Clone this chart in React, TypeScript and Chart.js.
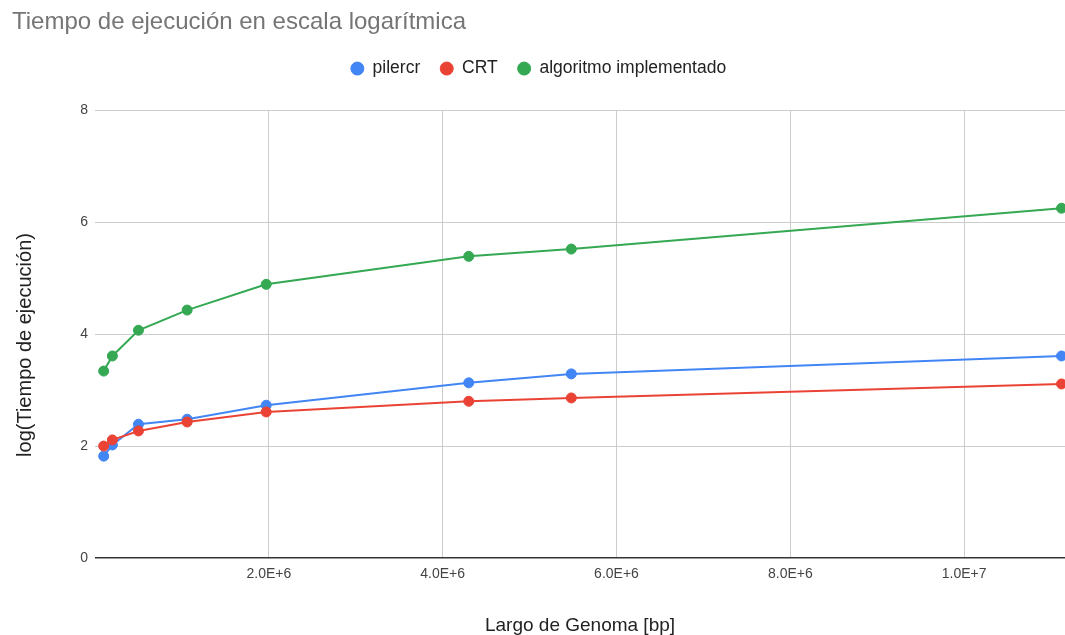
import React, { useEffect, useRef } from "react";
import { Chart, registerables } from "chart.js";

Chart.register(...registerables);

const chartTitle = "Tiempo de ejecución en escala logarítmica";
const xAxisTitle = "Largo de Genoma [bp]";
const yAxisTitle = "log(Tiempo de ejecución)";

const genomeSizes = [0.1e6, 0.2e6, 0.5e6, 1.06e6, 1.97e6, 4.3e6, 5.48e6, 11.12e6];
const pilercrValues = [1.82, 2.02, 2.39, 2.48, 2.73, 3.13, 3.29, 3.61];
const crtValues = [2.0, 2.11, 2.27, 2.43, 2.61, 2.8, 2.86, 3.11];
const algoritmoValues = [3.34, 3.61, 4.07, 4.43, 4.89, 5.39, 5.52, 6.25];

const seriesNames = ["pilercr", "CRT", "algoritmo implementado"];
const seriesColors = ["#4285F4", "#EA4335", "#34A853"];

const xTickValues = [2e6, 4e6, 6e6, 8e6, 1e7];
const xTickLabels = ["2.0E+6", "4.0E+6", "6.0E+6", "8.0E+6", "1.0E+7"];
const yTickValues = [0, 2, 4, 6, 8];

const FONT = "'Liberation Sans', Arial, sans-serif";

const yTitlePlugin = {
  id: "yTitlePlugin",
  afterDraw(chart: any) {
    const ctx = chart.ctx;
    ctx.save();
    ctx.translate(25, 345);
    ctx.rotate(-Math.PI / 2);
    ctx.font = `20px ${FONT}`;
    ctx.fillStyle = "#222222";
    ctx.textAlign = "center";
    ctx.textBaseline = "middle";
    ctx.fillText(yAxisTitle, 0, 0);
    ctx.restore();
  },
};

export default function App() {
  const canvasRef = useRef<HTMLCanvasElement | null>(null);

  useEffect(() => {
    const canvas = canvasRef.current;
    if (!canvas) return;
    const seriesValues = [pilercrValues, crtValues, algoritmoValues];
    const drawOrder = [2, 1, 0];
    const datasets = seriesNames.map((name, i) => ({
      label: name,
      data: genomeSizes.map((x, j) => ({ x, y: seriesValues[i][j] })),
      borderColor: seriesColors[i],
      backgroundColor: seriesColors[i],
      pointBackgroundColor: seriesColors[i],
      pointBorderColor: seriesColors[i],
      pointRadius: 5,
      pointBorderWidth: 1,
      borderWidth: 2,
      tension: 0,
      clip: false as const,
      order: drawOrder[i],
    }));

    const chart = new Chart(canvas, {
      type: "line",
      data: { datasets },
      plugins: [yTitlePlugin],
      options: {
        responsive: false,
        animation: false,
        layout: { autoPadding: false, padding: { left: 12, right: 0, top: 0, bottom: 0 } },
        plugins: {
          title: {
            display: true,
            text: chartTitle,
            align: "start",
            color: "#757575",
            font: { family: FONT, size: 24, weight: "normal", lineHeight: 1.2 },
            padding: { top: 8, bottom: 3 },
          },
          subtitle: {
            display: true,
            text: " ",
            weight: 500,
            font: { family: FONT, size: 10, lineHeight: 1 },
            padding: { top: 13, bottom: 0 },
          },
          legend: {
            display: true,
            position: "top",
            align: "center",
            labels: {
              usePointStyle: true,
              pointStyle: "circle",
              boxHeight: 9.2,
              pointStyleWidth: 13,
              padding: 20,
              color: "#222222",
              font: { family: FONT, size: 17.5 },
              sort: (a: any, b: any) => a.datasetIndex - b.datasetIndex,
            },
          },
          tooltip: { enabled: false },
        },
        scales: {
          x: {
            type: "linear",
            min: 0,
            max: 11.16e6,
            afterFit: (scale: any) => {
              scale.height = 77;
            },
            afterBuildTicks: (scale: any) => {
              scale.ticks = xTickValues.map((v) => ({ value: v }));
            },
            ticks: {
              color: "#444444",
              font: { family: FONT, size: 14 },
              padding: 8,
              maxRotation: 0,
              autoSkip: false,
              callback: (value: any) => {
                const idx = xTickValues.indexOf(Number(value));
                return idx >= 0 ? xTickLabels[idx] : "";
              },
            },
            grid: { color: "#cccccc", lineWidth: 1, drawTicks: false },
            border: { display: false },
            title: {
              display: true,
              text: xAxisTitle,
              color: "#222222",
              font: { family: FONT, size: 19 },
              padding: { top: 0, bottom: -2 },
            },
          },
          y: {
            type: "linear",
            min: 0,
            max: 8,
            afterFit: (scale: any) => {
              scale.width = 83;
            },
            afterBuildTicks: (scale: any) => {
              scale.ticks = yTickValues.map((v) => ({ value: v }));
            },
            ticks: {
              color: "#444444",
              font: { family: FONT, size: 14 },
              padding: 7,
              callback: (value: any) => String(value),
            },
            grid: {
              color: (ctx: any) => (ctx.tick && ctx.tick.value === 0 ? "#333333" : "#cccccc"),
              lineWidth: (ctx: any) => (ctx.tick && ctx.tick.value === 0 ? 1.5 : 1),
              drawTicks: false,
            },
            border: { display: false },
            title: { display: false },
          },
        },
      },
    });
    return () => chart.destroy();
  }, []);

  return (
    <div style={{ position: "absolute", left: 0, top: 0, width: 1065, height: 635, background: "#ffffff" }}>
      <canvas ref={canvasRef} width={1065} height={635} style={{ display: "block" }} />
    </div>
  );
}
